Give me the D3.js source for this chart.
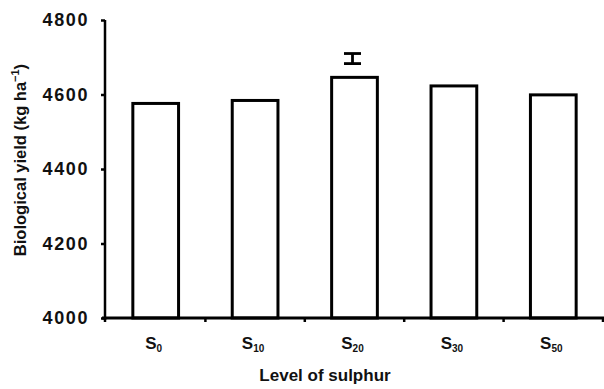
<!DOCTYPE html>
<html>
<head>
<meta charset="utf-8">
<script src="https://cdn.jsdelivr.net/npm/d3@7"></script>
<style>
  body { margin: 0; background: #fff; }
  svg text { font-family: "Liberation Sans", Arial, sans-serif; font-weight: bold; fill: #111; }
</style>
</head>
<body>
<svg id="chart" width="604" height="389"></svg>
<script>
"use strict";

//
//   DATA
//

var levels = ["0", "10", "20", "30", "50"];          // subscripts of S
var yieldValues = [4576, 4584, 4646, 4623, 4599];   // kg ha-1
var yTicks = [4000, 4200, 4400, 4600, 4800];
var errLevel = "20";
var errRange = [4683, 4710];

//
//   SET UP CHART
//

var plotLeft = 105, plotRight = 603, plotTop = 20, plotBottom = 318;

var svg = d3.select("#chart");

var scaleX = d3.scaleBand().domain(levels).range([plotLeft + 1, plotRight]).paddingInner(0.54).paddingOuter(0.27);
var scaleY = d3.scaleLinear().domain([4000, 4800]).range([plotBottom, plotTop]);

// Bars
svg.selectAll("rect.bar").data(levels).enter().append("rect")
    .attr("class", "bar")
    .attr("x", function (d) { return scaleX(d); })
    .attr("y", function (d, i) { return scaleY(yieldValues[i]); })
    .attr("width", scaleX.bandwidth())
    .attr("height", function (d, i) { return plotBottom - scaleY(yieldValues[i]); })
    .style("fill", "#fff")
    .style("stroke", "#000")
    .style("stroke-width", 3);

// Error bar (floating, above S20)
var ex = scaleX(errLevel) + scaleX.bandwidth() / 2 - 2;
var cap = 8.5;
var err = svg.append("g").style("stroke", "#000").style("stroke-width", 2.8);
err.append("line").attr("x1", ex).attr("x2", ex).attr("y1", scaleY(errRange[1])).attr("y2", scaleY(errRange[0]));
errRange.forEach(function (v) {
    err.append("line").attr("x1", ex - cap).attr("x2", ex + cap).attr("y1", scaleY(v)).attr("y2", scaleY(v));
});

// Y axis
var yAxis = svg.append("g").attr("transform", "translate(" + plotLeft + ",0)")
    .call(d3.axisLeft(scaleY).tickValues(yTicks).tickSize(4).tickPadding(12).tickFormat(d3.format("d")));
yAxis.select(".domain").attr("d", "M0," + plotTop + "V" + (plotBottom + 2)).style("stroke-width", 2.5);
yAxis.selectAll(".tick line").style("stroke-width", 2.5);
yAxis.selectAll(".tick text").style("font-size", "18px").style("letter-spacing", "1.6px").style("fill", "#111");

// X axis
var xAxis = svg.append("g").attr("transform", "translate(0," + plotBottom + ")");
xAxis.append("line").attr("x1", plotLeft - 3).attr("x2", 604).attr("y1", 0).attr("y2", 0)
    .style("stroke", "#000").style("stroke-width", 3);
var bounds = [plotLeft].concat(levels.map(function (d) { return scaleX(d) + scaleX.bandwidth() + scaleX.step() * scaleX.paddingInner() / 2; }));
xAxis.selectAll("line.tk").data(bounds).enter().append("line")
    .attr("class", "tk")
    .attr("x1", function (d) { return d; }).attr("x2", function (d) { return d; })
    .attr("y1", 0).attr("y2", 4)
    .style("stroke", "#000").style("stroke-width", 2.5);

var labels = xAxis.selectAll("text.lab").data(levels).enter().append("text")
    .attr("class", "lab")
    .attr("x", function (d) { return scaleX(d) + scaleX.bandwidth() / 2 - 2; })
    .attr("y", 31)
    .attr("text-anchor", "middle")
    .style("font-size", "17px");
labels.append("tspan").text("S");
labels.append("tspan").attr("dy", 3).style("font-size", "10px").text(function (d) { return d; });

// Axis titles
svg.append("text")
    .attr("x", 325).attr("y", 381)
    .attr("text-anchor", "middle")
    .style("font-size", "17px")
    .style("font-weight", "bold")
    .text("Level of sulphur");

var yt = svg.append("text")
    .attr("transform", "translate(26,160) rotate(-90)")
    .attr("text-anchor", "middle")
    .style("font-size", "16.5px");
yt.append("tspan").text("Biological yield (kg ha");
yt.append("tspan").attr("dy", -7).style("font-size", "11px").text("\u22121");
yt.append("tspan").attr("dy", 7).text(")");
</script>
</body>
</html>
